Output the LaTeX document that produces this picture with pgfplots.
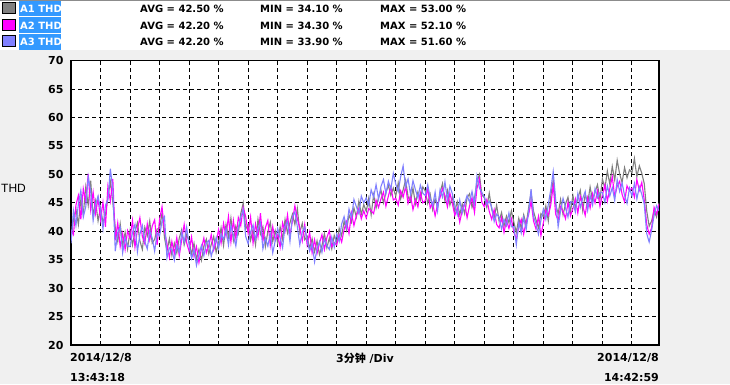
\documentclass[border=0pt]{standalone}
\usepackage{pgfplots}
\pgfplotsset{compat=1.18}
\usepackage{pgfplotstable}
\usepackage{fontspec}
\setmainfont{Liberation Sans}
\newfontfamily\tickf{DejaVu Sans}
\newfontfamily\cjk{Noto Sans CJK SC}
\definecolor{bgcol}{RGB}{240,240,240}
\definecolor{hlblue}{RGB}{51,153,255}
\definecolor{cA}{RGB}{128,128,128}
\definecolor{cB}{RGB}{255,0,255}
\definecolor{cC}{RGB}{128,128,255}
\pgfplotstableread{
a1 a2 a3
38.5 40.2 37.9
42.1 39.4 43.6
43.9 44.6 41.0
41.2 46.3 44.8
45.6 42.1 47.2
43.0 47.5 42.5
47.8 45.2 44.3
44.6 50.1 49.6
48.9 43.8 47.0
42.7 46.9 41.9
45.3 43.1 44.7
41.8 45.8 46.2
44.2 42.0 43.8
41.5 45.1 40.4
42.9 40.8 44.6
46.0 47.9 45.5
48.7 45.3 51.0
45.1 49.2 47.3
40.6 38.4 36.5
38.2 41.5 39.8
41.3 37.3 40.7
37.5 39.6 36.2
39.8 36.8 38.9
36.9 40.1 37.4
40.1 38.7 37.3
37.6 41.9 39.8
39.9 37.2 41.2
41.5 40.3 36.4
38.3 42.4 39.5
36.8 39.1 41.0
40.7 37.8 38.2
39.2 41.3 36.9
41.8 38.5 40.1
37.9 40.9 38.8
38.6 42.0 36.5
40.4 37.6 39.7
40.5 42.1 39.2
43.2 44.3 41.8
38.9 40.0 42.6
36.5 37.8 35.3
38.7 35.4 37.1
35.8 38.2 36.7
37.9 36.1 34.9
36.2 38.9 37.5
38.8 35.7 36.3
40.3 38.5 39.8
37.6 41.2 38.1
39.4 38.0 40.7
38.2 36.5 37.6
36.0 39.0 35.2
37.9 35.6 36.8
35.1 37.3 34.0
36.8 34.5 35.9
34.9 36.9 37.5
37.4 38.8 35.7
38.6 36.2 37.9
36.0 37.5 38.4
37.7 39.4 35.6
39.1 36.7 37.2
36.3 38.1 38.9
38.1 40.3 37.0
40.6 37.9 39.5
37.5 41.4 38.6
41.2 39.2 40.4
39.0 42.6 37.6
42.3 38.1 41.0
38.4 41.9 39.3
40.9 38.7 37.4
39.6 42.4 40.6
43.1 41.0 42.5
45.0 44.2 43.8
40.4 42.6 39.1
41.2 39.6 37.8
38.4 42.5 39.9
40.3 37.9 41.1
37.6 41.3 38.6
42.1 39.0 40.4
39.5 43.2 41.5
40.8 38.3 36.9
37.3 40.6 38.8
39.9 41.9 37.4
41.6 37.5 39.6
38.2 40.8 36.2
40.1 38.4 38.3
37.9 39.4 40.5
40.8 37.2 38.8
38.6 41.5 37.1
42.1 40.0 40.9
39.7 42.9 41.7
41.5 39.3 38.2
43.0 41.8 42.6
41.2 44.5 43.4
44.0 42.2 40.8
39.8 40.6 37.6
41.4 38.3 39.9
38.5 41.2 40.7
39.1 37.6 38.4
37.0 39.8 36.5
38.7 36.2 37.8
36.4 38.5 34.6
38.3 36.1 36.9
35.9 37.9 38.2
37.5 39.4 36.3
39.6 36.8 38.6
37.1 38.9 37.5
38.8 40.1 36.8
36.9 37.3 39.0
39.3 38.0 37.2
38.0 37.6 39.5
40.5 39.4 38.2
39.2 38.1 41.3
41.8 40.3 42.6
40.2 41.7 40.7
42.9 39.6 43.9
41.6 43.2 42.4
44.1 41.0 45.6
42.5 42.8 44.3
45.3 44.0 43.1
43.0 42.2 46.2
44.7 43.6 45.0
43.5 42.3 45.9
45.8 44.0 44.6
42.9 43.6 47.3
46.4 43.1 46.0
44.1 45.5 48.2
45.9 44.2 45.7
47.2 45.7 47.9
45.0 46.9 49.1
46.8 44.4 46.6
48.1 46.2 48.8
46.3 47.8 47.4
47.6 45.5 50.2
46.2 45.8 48.3
48.5 44.6 47.0
45.7 47.1 49.6
47.3 46.0 51.5
49.0 47.9 47.8
46.1 44.9 49.2
45.2 46.3 46.5
47.6 43.8 48.9
44.8 45.6 47.3
46.9 44.3 45.9
45.5 46.8 48.1
47.8 45.0 46.7
47.1 45.4 46.3
44.9 47.6 48.2
46.5 44.1 45.8
43.8 45.0 44.5
45.7 42.7 46.9
44.2 44.8 43.6
46.8 45.9 47.3
48.4 47.5 46.0
45.3 46.2 48.7
47.2 44.3 45.5
44.6 46.7 47.9
46.1 44.9 46.6
43.5 42.8 44.6
45.2 44.1 42.9
42.9 41.6 45.5
44.8 43.7 43.2
43.1 45.0 44.9
45.9 42.4 46.3
46.6 44.5 45.1
44.2 45.9 47.0
45.8 43.3 44.8
48.6 47.5 49.7
50.0 49.2 47.6
46.4 45.1 46.8
45.9 44.3 46.1
44.2 45.6 44.7
46.7 43.5 45.3
43.9 42.1 44.2
42.4 43.8 41.7
44.6 41.2 43.0
41.8 40.6 42.5
43.3 42.4 40.4
40.9 39.8 42.1
42.7 41.9 41.0
41.5 40.5 43.2
43.6 42.2 40.8
41.6 39.9 40.8
39.8 38.6 37.6
42.3 40.8 41.5
40.5 42.1 39.7
42.9 39.5 42.4
41.2 41.7 40.3
44.1 42.9 43.4
46.8 45.3 47.4
43.5 41.8 42.6
42.0 40.4 41.3
40.6 42.6 39.5
43.1 39.2 41.9
42.6 41.5 43.9
44.5 43.7 42.1
41.8 42.8 44.7
46.2 44.6 47.3
49.0 48.1 50.5
44.7 43.0 45.6
43.1 41.9 40.8
45.6 44.3 43.6
42.9 43.5 45.8
44.8 42.2 44.1
46.0 45.1 42.5
43.4 42.7 45.2
46.3 44.0 45.1
44.1 45.7 43.4
45.8 43.2 46.6
47.2 46.1 44.2
43.6 44.5 45.8
46.5 42.8 47.0
44.9 45.9 43.7
47.8 44.1 46.3
45.4 46.6 44.6
46.9 45.0 47.5
48.2 47.1 45.9
45.6 44.4 46.8
49.2 46.4 46.8
47.5 48.2 45.1
50.6 45.3 48.0
48.3 47.5 46.2
51.4 49.6 47.7
49.0 46.1 45.4
52.5 47.9 49.1
50.1 48.8 47.0
48.6 46.5 48.5
51.2 45.2 46.3
49.4 48.0 44.9
50.8 47.1 47.6
50.3 47.6 46.2
52.8 46.0 48.4
49.6 49.1 45.7
51.5 47.2 47.8
50.2 48.6 46.5
48.4 45.5 44.8
43.6 41.2 39.6
40.9 39.5 38.1
41.8 40.6 40.2
43.7 44.2 42.8
42.5 43.0 44.5
45.0 44.8 43.6
}\datatab
\begin{document}
\begin{tikzpicture}[x=1pt,y=1pt]
\fill[bgcol] (0,0) rectangle (730,384);
\fill[white] (0,334) rectangle (730,384);
\draw[black!45, line width=1pt] (0,383.5) -- (730,383.5);
% header rows
\fill[hlblue] (19,367.5) rectangle (61,383);
\fill[hlblue] (19,351) rectangle (61,367);
\fill[hlblue] (19,334.5) rectangle (61,350.5);
\filldraw[fill=cA, draw=black, line width=0.8pt] (2.5,370.5) rectangle (15.5,381.5);
\filldraw[fill=cB, draw=black, line width=0.8pt] (2.5,354) rectangle (15.5,365);
\filldraw[fill=cC, draw=black, line width=0.8pt] (2.5,337.5) rectangle (15.5,348.5);
\begin{scope}[every node/.style={inner sep=0pt, anchor=base west, font=\tickf\bfseries\fontsize{10}{12}\selectfont}]
\node[text=white] at (20,371) {A1 THD};
\node[text=white] at (20,355) {A2 THD};
\node[text=white] at (20,339) {A3 THD};
\node at (140,371) {AVG = 42.50 \%};
\node at (140,355) {AVG = 42.20 \%};
\node at (140,339) {AVG = 42.20 \%};
\node at (260,371) {MIN = 34.10 \%};
\node at (260,355) {MIN = 34.30 \%};
\node at (260,339) {MIN = 33.90 \%};
\node at (380,371) {MAX = 53.00 \%};
\node at (380,355) {MAX = 52.10 \%};
\node at (380,339) {MAX = 51.60 \%};
\end{scope}
\begin{axis}[
  at={(71pt,39pt)}, anchor=south west,
  scale only axis, width=588pt, height=284.3pt,
  xmin=0, xmax=59.75, ymin=20, ymax=70,
  ytick={20,25,...,70}, xtick={3,6,...,57}, xticklabels={},
  grid=major,
  grid style={black, line width=0.9pt, dash pattern=on 4pt off 3pt},
  major tick length=0pt,
  axis line style={black, line width=1.3pt},
  axis background/.style={fill=white},
  /pgf/number format/assume math mode=true,
  yticklabel style={font=\tickf\bfseries\fontsize{11}{11}\selectfont, xshift=-4pt},
  clip=true,
]
\addplot[cA, line width=1.1pt, no markers, sharp plot] table[x expr=\coordindex*0.25, y=a1] {\datatab};
\addplot[cB, line width=1.1pt, no markers, sharp plot] table[x expr=\coordindex*0.25, y=a2] {\datatab};
\addplot[cC, line width=1.1pt, no markers, sharp plot] table[x expr=\coordindex*0.25, y=a3] {\datatab};
\end{axis}
\node[anchor=west, inner sep=0pt, font=\fontsize{12}{12}\selectfont] at (1,196) {THD};
\begin{scope}[every node/.style={inner sep=0pt, font=\tickf\bfseries\fontsize{11}{11}\selectfont}]
\node[anchor=west] at (70,26) {2014/12/8};
\node[anchor=west] at (70,7) {13:43:18};
\node[anchor=east] at (659,26) {2014/12/8};
\node[anchor=east] at (659,7) {14:42:59};
\node at (365,26) {3{\cjk\fontsize{11}{11}\selectfont 分钟} /Div};
\end{scope}
\pgfresetboundingbox
\path[use as bounding box] (0,0) rectangle (730,384);
\end{tikzpicture}
\end{document}
